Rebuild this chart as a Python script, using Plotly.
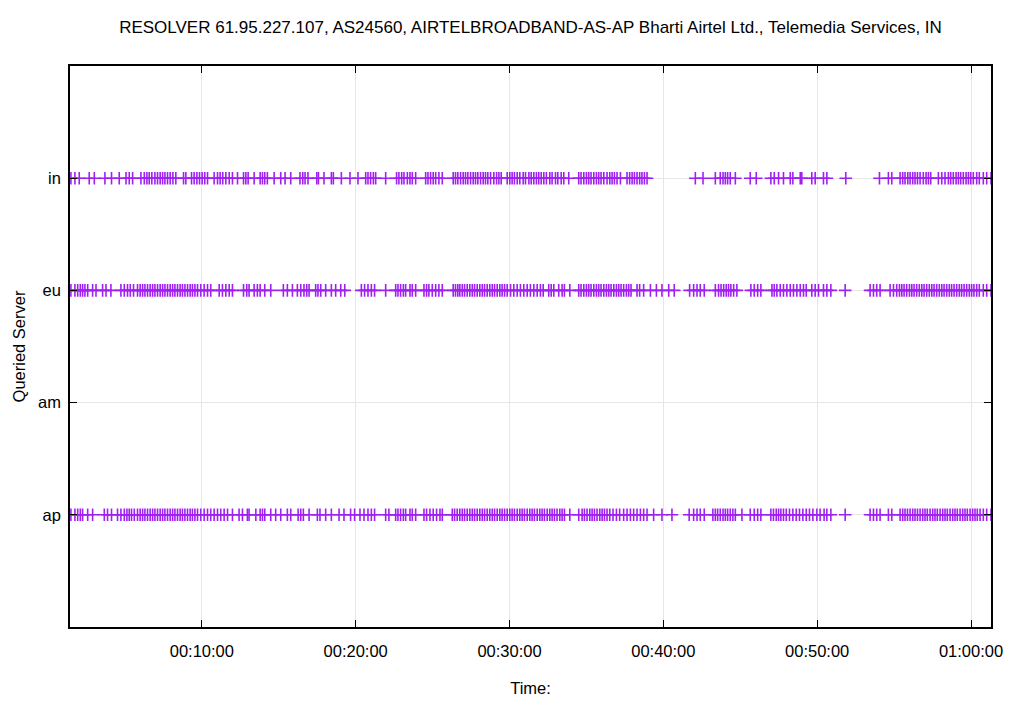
import datetime as dt
import plotly.graph_objects as go

# Query times (minutes after 00:00:00) per queried server
in_times = [1.49, 1.75, 2.03, 2.68, 3.01, 3.70, 4.13, 4.63, 5.07, 5.28, 5.50, 6.04, 6.26, 6.43, 6.58, 6.75,
            6.95, 7.12, 7.29, 7.45, 7.60, 7.77, 7.94, 8.12, 8.31, 8.81, 8.96, 9.33, 9.50, 9.68, 9.85, 10.02,
            10.19, 10.37, 10.80, 11.02, 11.19, 11.36, 11.56, 11.78, 11.99, 12.32, 12.71, 12.86, 13.01, 13.40,
            13.79, 13.94, 14.09, 14.26, 14.70, 15.13, 15.41, 15.78, 16.38, 16.56, 16.71, 16.90, 17.47, 17.58,
            17.94, 18.42, 18.55, 19.07, 19.63, 20.15, 20.65, 20.80, 20.97, 21.15, 21.30,
            21.95, 22.66, 22.81, 22.99, 23.14, 23.36, 23.53, 23.68, 23.90, 24.55, 24.70, 24.87, 25.04, 25.20,
            25.41, 25.63, 26.34, 26.49, 26.64, 26.82, 26.99, 27.14, 27.29, 27.47, 27.64, 27.79, 27.94, 28.12,
            28.29, 28.44, 28.59, 28.77, 28.98, 29.16, 29.31, 29.46, 29.85, 30.02, 30.17, 30.32, 30.50, 30.67,
            30.89, 31.04, 31.26, 31.41, 31.58, 31.75, 31.90, 32.06, 32.23, 32.40, 32.62, 32.77, 32.99, 33.14,
            33.36, 33.53, 33.85, 34.50, 34.65, 34.83, 35.00, 35.15, 35.30, 35.48, 35.65, 35.80, 35.95, 36.13,
            36.34, 36.52, 36.67, 36.82, 36.99, 37.21, 37.64, 37.81, 37.97, 38.12, 38.29, 38.46, 38.61, 38.77,
            38.94,
            42.08, 42.58, 43.38, 43.70, 43.88, 44.03, 44.18, 44.35, 44.68, 45.65, 46.04, 46.99, 47.21, 47.49,
            47.81, 48.25, 48.42, 48.90, 49.00, 49.65, 49.87, 50.41, 50.63, 51.86, 54.05, 54.63, 54.85, 55.39,
            55.56, 55.71, 55.89, 56.04, 56.21, 56.36, 56.52, 56.69, 56.90, 57.08, 57.23, 57.38, 57.88, 58.10,
            58.31, 58.53, 58.68, 58.85, 59.03, 59.18, 59.33, 59.50, 59.68, 59.83, 59.98, 60.15, 60.37, 60.54,
            60.80, 61.02, 61.30]

eu_times = [1.49, 1.75, 1.93, 2.10, 2.25, 2.40, 2.58, 2.90, 3.12, 3.55, 3.77, 4.09, 4.74, 4.96, 5.17, 5.35,
            5.56, 5.82, 5.99, 6.15, 6.30, 6.47, 6.64, 6.80, 6.95, 7.12, 7.29, 7.45, 7.60, 7.77, 7.94, 8.10,
            8.25, 8.42, 8.59, 8.74, 8.90, 9.07, 9.24, 9.39, 9.55, 9.72, 9.93, 10.15, 10.37, 10.58, 11.13,
            11.34, 11.56, 11.78, 11.99, 12.71, 12.92, 13.07, 13.40, 13.61, 13.79, 14.09, 14.48, 15.30, 15.56,
            15.89, 16.21, 16.43, 16.64, 16.82, 16.97, 17.40, 17.55, 17.73, 18.05, 18.42, 18.70, 19.03, 19.29,
            20.37, 20.58, 20.80, 21.02, 21.23,
            21.95, 22.60, 22.75, 22.92, 23.10, 23.25, 23.53, 23.68, 23.90, 24.44, 24.61, 24.76, 24.98, 25.20,
            25.41, 25.63, 26.34, 26.49, 26.64, 26.77, 26.93, 27.08, 27.25, 27.42, 27.58, 27.73, 27.90, 28.07,
            28.23, 28.38, 28.55, 28.72, 28.88, 29.03, 29.20, 29.37, 29.52, 29.68, 29.85, 30.07, 30.28, 30.50,
            30.71, 30.93, 31.15, 31.36, 31.58, 31.80, 32.01, 32.19, 32.55, 32.71, 32.88, 33.20, 33.42, 33.57,
            33.92, 34.50, 34.65, 34.83, 35.00, 35.15, 35.30, 35.48, 35.65, 35.80, 35.95, 36.13, 36.30, 36.45,
            36.60, 36.78, 36.95, 37.10, 37.25, 37.42, 37.60, 37.75, 37.90, 38.29, 38.46, 38.72, 39.16, 39.55,
            39.91, 40.35, 40.71,
            41.71, 41.97, 42.19, 42.40, 42.66, 43.38, 43.59, 43.75, 43.92, 44.09, 44.24, 44.39, 44.57, 44.78,
            45.69, 45.91, 46.13, 46.34, 47.06, 47.21, 47.38, 47.60, 47.81, 48.03, 48.25, 48.46, 48.68, 48.90,
            49.11, 49.29, 49.65, 49.87, 50.09, 50.41, 50.63, 50.89, 51.82, 53.44, 53.66, 53.87, 54.09, 54.74,
            54.96, 55.17, 55.35, 55.50, 55.65, 55.82, 56.00, 56.15, 56.30, 56.47, 56.64, 56.80, 56.95, 57.12,
            57.29, 57.45, 57.60, 57.77, 57.94, 58.10, 58.25, 58.42, 58.59, 58.74, 58.90, 59.07, 59.24, 59.39,
            59.55, 59.72, 59.89, 60.04, 60.19, 60.37, 60.54, 60.80, 61.02, 61.30]

am_times = []

ap_times = [1.49, 1.75, 1.93, 2.10, 2.25, 2.58, 2.90, 3.66, 3.87, 4.13, 4.52, 4.74, 4.96, 5.13, 5.28, 5.43,
            5.61, 5.82, 5.99, 6.15, 6.30, 6.47, 6.64, 6.80, 6.95, 7.12, 7.29, 7.45, 7.60, 7.77, 7.94, 8.10,
            8.25, 8.42, 8.59, 8.74, 8.90, 9.07, 9.24, 9.39, 9.55, 9.72, 9.93, 10.15, 10.37, 10.58, 10.80,
            11.02, 11.23, 11.45, 11.67, 11.99, 12.42, 12.64, 12.96, 13.07, 13.51, 13.79, 13.94, 14.09, 14.48,
            14.80, 15.13, 15.56, 15.78, 16.26, 16.43, 16.60, 16.97, 17.51, 17.68, 18.05, 18.42, 18.92, 19.24,
            19.67, 19.93, 20.28, 20.54, 20.80, 21.02, 21.23,
            21.95, 22.16, 22.60, 22.75, 22.92, 23.10, 23.25, 23.53, 23.68, 23.90, 24.44, 24.61, 24.83, 25.04,
            25.26, 25.48, 25.63, 26.28, 26.43, 26.60, 26.77, 26.93, 27.08, 27.25, 27.42, 27.58, 27.73, 27.90,
            28.07, 28.23, 28.38, 28.55, 28.72, 28.88, 29.03, 29.20, 29.37, 29.52, 29.68, 29.85, 30.02, 30.17,
            30.32, 30.50, 30.67, 30.82, 30.97, 31.15, 31.32, 31.47, 31.62, 31.80, 31.97, 32.12, 32.27, 32.45,
            32.62, 32.77, 32.92, 33.09, 33.27, 33.42, 33.57, 33.92, 34.50, 34.72, 34.87, 35.04, 35.22, 35.37,
            35.52, 35.69, 35.87, 36.02, 36.17, 36.34, 36.52, 36.73, 36.95, 37.16, 37.42, 37.64, 37.86, 38.07,
            38.29, 38.51, 38.72, 38.94, 39.37, 39.91, 40.56, 41.68,
            41.97, 42.19, 42.40, 42.66, 43.22, 43.38, 43.53, 43.70, 43.88, 44.03, 44.18, 44.35, 44.52, 44.68,
            45.11, 45.65, 45.91, 46.13, 46.34, 46.99, 47.16, 47.34, 47.49, 47.64, 47.81, 47.99, 48.20, 48.42,
            48.64, 48.85, 49.07, 49.29, 49.50, 49.72, 49.98, 50.19, 50.45, 50.63, 50.89, 51.82, 53.44, 53.66,
            53.87, 54.09, 54.63, 54.85, 55.39, 55.56, 55.71, 55.87, 56.04, 56.21, 56.36, 56.52, 56.69, 56.86,
            57.01, 57.16, 57.34, 57.51, 57.66, 57.81, 57.99, 58.16, 58.31, 58.46, 58.64, 58.81, 58.96, 59.11,
            59.29, 59.46, 59.61, 59.76, 59.94, 60.11, 60.26, 60.41, 60.59, 60.80, 61.02, 61.30]

servers = ["ap", "am", "eu", "in"]
server_times = {"ap": ap_times, "am": am_times, "eu": eu_times, "in": in_times}
x_tick_labels = ["00:10:00", "00:20:00", "00:30:00", "00:40:00", "00:50:00", "01:00:00"]
x_start_min = 1.43
x_end_min = 61.30

base = dt.datetime(1970, 1, 1)


def to_dt(m):
    return base + dt.timedelta(minutes=m)


xs, ys = [], []
for s in servers:
    for m in server_times[s]:
        xs.append(to_dt(m))
        ys.append(s)

COLOR = "#a020f0"
FONT = "Liberation Sans, Arial, sans-serif"
FS = 16.5

fig = go.Figure()
fig.add_trace(go.Scatter(
    x=xs, y=ys, mode="markers",
    marker=dict(symbol="cross-thin", size=9, line=dict(color=COLOR, width=1.6), color=COLOR),
    showlegend=False, hoverinfo="x+y",
))

tickvals = [base + dt.timedelta(minutes=10 * (i + 1)) for i in range(len(x_tick_labels))]

fig.update_layout(
    width=1024, height=706,
    margin=dict(l=70, r=33, t=66, b=79),
    paper_bgcolor="white", plot_bgcolor="white",
    font=dict(family=FONT, size=FS, color="black"),
    title=dict(
        text="RESOLVER 61.95.227.107, AS24560, AIRTELBROADBAND-AS-AP Bharti Airtel Ltd., Telemedia Services, IN",
        x=0.5, xref="paper", xanchor="center", y=1 - 27 / 706, yanchor="middle",
        font=dict(family=FONT, size=17, color="black"),
    ),
    xaxis=dict(
        type="date", automargin=False,
        range=[to_dt(x_start_min), to_dt(x_end_min)],
        tickvals=tickvals, ticktext=x_tick_labels,
        showgrid=True, gridcolor="#e6e6e6", gridwidth=1,
        ticks="inside", ticklen=7, tickcolor="black", tickwidth=1,
        showline=True, linecolor="black", linewidth=1.5, mirror="ticks",
        zeroline=False, ticklabelstandoff=8,
        title=dict(text="Time:", font=dict(family=FONT, size=FS), standoff=24),
        tickfont=dict(family=FONT, size=FS),
    ),
    yaxis=dict(
        type="category", automargin=False,
        categoryorder="array", categoryarray=servers,
        range=[-1, 4],
        showgrid=True, gridcolor="#e6e6e6", gridwidth=1,
        ticks="inside", ticklen=7, tickcolor="black", tickwidth=1,
        showline=True, linecolor="black", linewidth=1.5, mirror="ticks",
        zeroline=False, ticklabelstandoff=4,
        title=dict(text="Queried Server", font=dict(family=FONT, size=FS), standoff=8),
        tickfont=dict(family=FONT, size=FS),
    ),
)

fig.write_html("out.html")
